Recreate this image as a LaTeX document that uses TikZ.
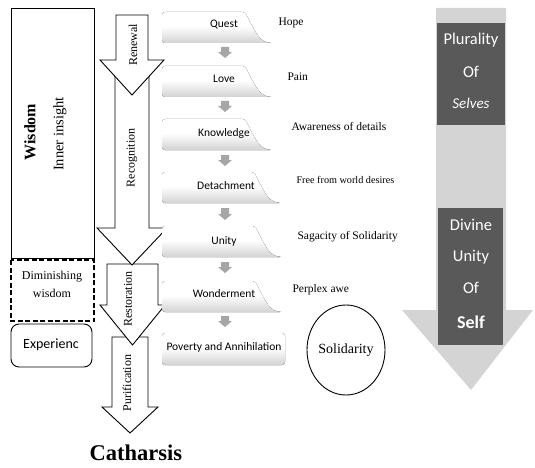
\documentclass[tikz,border=0pt]{standalone}
\usepackage{fontspec}
\setmainfont{Liberation Serif}
\setsansfont{Carlito}
\definecolor{lightbar}{HTML}{D4D4D4}
\definecolor{darkbox}{HTML}{595959}
\definecolor{stepgray}{HTML}{A6A6A6}
\pgfdeclareverticalshading{stageshade}{100bp}{color(0bp)=(gray!35);
  color(25bp)=(gray!35); color(38bp)=(gray!18); color(52bp)=(white);
  color(100bp)=(white)}

\begin{document}
\begin{tikzpicture}[x = 1pt, y = -1pt,
  blockarrow/.style = {draw, fill = white, line width = 0.9pt, line join = miter},
  stagebox/.style = {shading = stageshade, draw = none},
  stagetext/.style = {font = \sffamily\fontsize{11.5}{13}\selectfont},
  sidetext/.style = {anchor = west, font = \fontsize{11.5}{13}\selectfont},
  arrowtext/.style = {rotate = 90, font = \fontsize{12}{14}\selectfont},
  selftext/.style = {text = white, font = \sffamily\fontsize{16.5}{18}\selectfont}]
  \useasboundingbox (0, 0) rectangle (535, 468);

  % left boxes
  \draw[line width = 0.9pt] (11, 8) rectangle (94, 258);
  \node[rotate = 90, font = \bfseries\fontsize{16}{18}\selectfont] (wisdom)
  at (30, 132) {Wisdom};
  \node[rotate = 90, font = \fontsize{14.5}{16}\selectfont] (insight) at (60, 134)
  {Inner insight};

  \draw[line width = 1.5pt, dash pattern = on 5pt off 2.5pt] (11, 260) rectangle
  (94, 321);
  \node[align = center, font = \fontsize{12}{18}\selectfont] (diminish) at (52, 284)
  {Diminishing\\wisdom};

  \draw[line width = 0.9pt, rounded corners = 8pt] (11, 324) rectangle (92, 367);
  \node[font = \sffamily\fontsize{14}{16}\selectfont] (exper) at (51, 345)
  {Experienc};

  % block arrows, last stage first
  \draw[blockarrow] (112, 337) -- (148, 337) -- (148, 407) -- (158, 407) --
  (130, 433) -- (102, 407) -- (112, 407) -- cycle;
  \draw[blockarrow] (107, 264) -- (158, 264) -- (158, 305) -- (165, 305) --
  (132.5, 345) -- (100, 305) -- (107, 305) -- cycle;
  \draw[blockarrow] (115, 70) -- (149, 70) -- (149, 228) -- (167, 228) --
  (132, 265) -- (97, 228) -- (115, 228) -- cycle;
  \draw[blockarrow] (116, 15) -- (148, 15) -- (148, 60) -- (164, 60) --
  (132, 95) -- (100, 60) -- (116, 60) -- cycle;

  \node[arrowtext] (renewal) at (133, 45) {Renewal};
  \node[arrowtext] (recog) at (132, 158) {Recognition};
  \node[arrowtext] (restor) at (128, 299) {Restoration};
  \node[arrowtext] (purif) at (127, 383) {Purification};

  \node[font = \bfseries\fontsize{22.5}{24}\selectfont] (catharsis) at (136, 453)
  {Catharsis};

  % stages
  \fill[stagebox, rounded corners = 3pt] (162, 12) -- (245, 12) .. controls
  (256, 34) and (260, 42) .. (273, 43) -- (162, 43) -- cycle;
  \fill[stagebox, rounded corners = 3pt] (162, 66) -- (245, 66) .. controls
  (256, 88) and (260, 96) .. (273, 97) -- (162, 97) -- cycle;
  \fill[stagebox, rounded corners = 3pt] (162, 119) -- (245, 119) .. controls
  (256, 141) and (260, 149) .. (273, 150) -- (162, 150) -- cycle;
  \fill[stagebox, rounded corners = 3pt] (162, 172) -- (254, 172) .. controls
  (265, 194) and (269, 202) .. (282, 203) -- (162, 203) -- cycle;
  \fill[stagebox, rounded corners = 3pt] (162, 226) -- (255, 226) .. controls
  (266, 248) and (270, 256) .. (283, 257) -- (162, 257) -- cycle;
  \fill[stagebox, rounded corners = 3pt] (162, 281) -- (255, 281) .. controls
  (266, 303) and (270, 311) .. (283, 312) -- (162, 312) -- cycle;
  \fill[stagebox, rounded corners = 3pt] (162, 333) rectangle (285, 365);

  \node[stagetext] (quest) at (224, 25) {Quest};
  \node[stagetext] (love) at (224, 79) {Love};
  \node[stagetext] (knowl) at (224, 133) {Knowledge};
  \node[stagetext] (detach) at (226, 186) {Detachment};
  \node[stagetext] (unity) at (224, 241) {Unity};
  \node[stagetext] (wonder) at (224, 294) {Wonderment};
  \node[stagetext] (poverty) at (224, 347) {Poverty and Annihilation};

  \fill[stepgray] (221, 47) -- (229, 47) -- (229, 52) -- (232, 52) -- (225, 58) --
  (218, 52) -- (221, 52) -- cycle;
  \fill[stepgray] (221, 101) -- (229, 101) -- (229, 106) -- (232, 106) --
  (225, 112) -- (218, 106) -- (221, 106) -- cycle;
  \fill[stepgray] (221, 155) -- (229, 155) -- (229, 160) -- (232, 160) --
  (225, 166) -- (218, 160) -- (221, 160) -- cycle;
  \fill[stepgray] (221, 208) -- (229, 208) -- (229, 214) -- (232, 214) --
  (225, 220) -- (218, 214) -- (221, 214) -- cycle;
  \fill[stepgray] (221, 262) -- (229, 262) -- (229, 267) -- (232, 267) --
  (225, 273) -- (218, 267) -- (221, 267) -- cycle;
  \fill[stepgray] (221, 316) -- (229, 316) -- (229, 321) -- (232, 321) --
  (225, 327) -- (218, 321) -- (221, 321) -- cycle;

  % side labels
  \node[sidetext] (hope) at (275, 23) {Hope};
  \node[sidetext] (pain) at (284, 77) {Pain};
  \node[sidetext] (aware) at (288, 127) {Awareness of details};
  \node[sidetext, font = \fontsize{10.2}{12}\selectfont] (free) at (293, 180)
  {Free from world desires};
  \node[sidetext] (sagacity) at (294, 237) {Sagacity of Solidarity};
  \node[sidetext] (perplex) at (289, 290) {Perplex awe};

  \draw[line width = 0.9pt] (346, 350) ellipse[x radius = 39, y radius = 45];
  \node[font = \fontsize{14}{16}\selectfont] (solid) at (346, 350) {Solidarity};

  % right arrow
  \fill[lightbar] (436, 8) -- (506, 8) -- (506, 310) -- (533, 310) -- (471, 390) --
  (402, 310) -- (436, 310) -- cycle;
  \fill[darkbox] (437, 23) rectangle (505, 125);
  \fill[darkbox] (438, 208) rectangle (503, 345);

  \node[selftext] (plur) at (471, 40) {Plurality};
  \node[selftext] (of1) at (471, 72) {Of};
  \node[selftext, font = \sffamily\itshape\fontsize{15}{18}\selectfont] (selves)
  at (471, 103) {Selves};
  \node[selftext] (divine) at (471, 225) {Divine};
  \node[selftext] (unity2) at (471, 257) {Unity};
  \node[selftext] (of2) at (471, 288) {Of};
  \node[selftext, font = \sffamily\bfseries\fontsize{18}{20}\selectfont] (self)
  at (471, 322) {Self};
\end{tikzpicture}
\end{document}
